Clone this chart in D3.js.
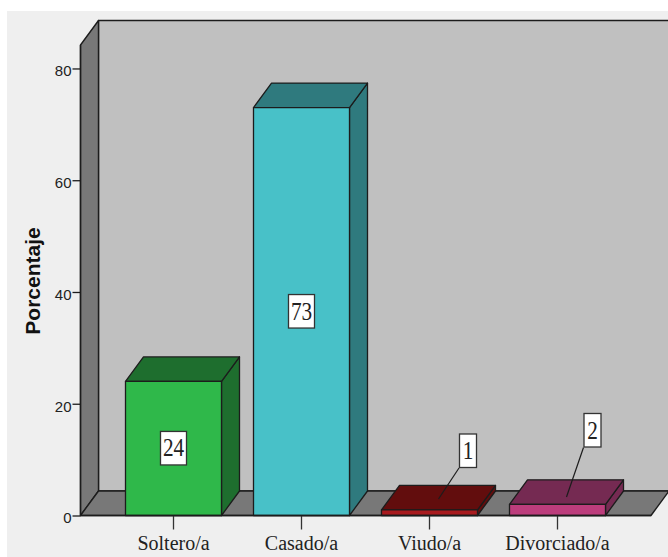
<!DOCTYPE html>
<html>
<head>
<meta charset="utf-8">
<script src="https://cdn.jsdelivr.net/npm/d3@7"></script>
<style>
	html, body { margin: 0; padding: 0; background: #fff; }
	svg { display: block; }
</style>
</head>
<body>
<div id="chart"></div>
<script>
const categories = ["Soltero/a", "Casado/a", "Viudo/a", "Divorciado/a"];
const values = [24, 73, 1, 2];
const yTicks = [0, 20, 40, 60, 80];
const yTitle = "Porcentaje";

const frontColors = ["#2fb84a", "#48c1c8", "#a81a1e", "#bc3d7c"];
const shadeColors = ["#1e6e2e", "#2f7a7e", "#620d0d", "#752a52"];

const w = 668, h = 557;
const depthX = 18, depthY = -24.5;
const plotLeft = 80.5, plotRight = 651, plotTop = 45, plotBottom = 515.5;
const ink = "#1c1c1c";

const x = d3.scaleBand()
	.domain(categories)
	.range([109.5, 621.5])
	.paddingInner(0.25)
	.paddingOuter(0.125);

const y = d3.scaleLinear()
	.domain([0, 84.2])
	.range([plotBottom, plotTop]);

// small bars get their label pulled out on a leader line
const callouts = {
	"Viudo/a": {tipX: 438.5, tipY: 499, boxX: 468, boxY: 451},
	"Divorciado/a": {tipX: 566.5, tipY: 497, boxX: 592.5, boxY: 430.5}
};

const poly = pts => "M" + pts.map(p => p.join(",")).join("L") + "Z";

const svg = d3.select("#chart").append("svg")
	.attr("width", w)
	.attr("height", h);

svg.append("rect")
	.attr("x", 7).attr("y", 11)
	.attr("width", w - 7).attr("height", h - 11)
	.attr("fill", "#efefef");

// box: back wall, side wall, floor
const box = svg.append("g")
	.attr("stroke", ink)
	.attr("stroke-width", 1.4)
	.attr("stroke-linejoin", "round");

box.append("path")
	.attr("d", poly([[plotLeft + depthX, plotTop + depthY], [plotRight + depthX + 4, plotTop + depthY], [plotRight + depthX + 4, plotBottom + depthY], [plotLeft + depthX, plotBottom + depthY]]))
	.attr("fill", "#c0c0c0");
box.append("path")
	.attr("d", poly([[plotLeft, plotTop], [plotLeft + depthX, plotTop + depthY], [plotLeft + depthX, plotBottom + depthY], [plotLeft, plotBottom]]))
	.attr("fill", "#787878");
box.append("path")
	.attr("d", poly([[plotLeft, plotBottom], [plotLeft + depthX, plotBottom + depthY], [plotRight + depthX, plotBottom + depthY], [plotRight, plotBottom]]))
	.attr("fill", "#787878");

const data = categories.map((c, i) => ({key: c, value: values[i], front: frontColors[i], shade: shadeColors[i]}));

const bars = svg.selectAll(".bar")
	.data(data, d => d.key)
	.enter()
	.append("g")
	.attr("class", "bar")
	.attr("stroke", ink)
	.attr("stroke-width", 1.3)
	.attr("stroke-linejoin", "round");

bars.append("path")
	.attr("fill", d => d.shade)
	.attr("d", d => {
		const x1 = x(d.key) + x.bandwidth(), y0 = y(d.value);
		return poly([[x1, y0], [x1 + depthX, y0 + depthY], [x1 + depthX, plotBottom + depthY], [x1, plotBottom]]);
	});

bars.append("path")
	.attr("fill", d => d.shade)
	.attr("d", d => {
		const x0 = x(d.key), x1 = x0 + x.bandwidth(), y0 = y(d.value);
		return poly([[x0, y0], [x0 + depthX, y0 + depthY], [x1 + depthX, y0 + depthY], [x1, y0]]);
	});

bars.append("rect")
	.attr("fill", d => d.front)
	.attr("x", d => x(d.key))
	.attr("y", d => y(d.value))
	.attr("width", x.bandwidth())
	.attr("height", d => plotBottom - y(d.value));

// axes
const yAxis = svg.append("g")
	.attr("transform", `translate(${plotLeft},0)`)
	.call(d3.axisLeft(y).tickValues(yTicks).tickSize(8).tickPadding(1));

const xAxis = svg.append("g")
	.attr("transform", `translate(0,${plotBottom})`)
	.call(d3.axisBottom(x).tickSize(14).tickPadding(6));

yAxis.select(".domain").remove();
xAxis.select(".domain").remove();

svg.append("line")
	.attr("x1", plotLeft).attr("x2", plotLeft)
	.attr("y1", plotTop).attr("y2", plotBottom)
	.attr("stroke", ink).attr("stroke-width", 1.4);
svg.append("line")
	.attr("x1", plotLeft).attr("x2", plotRight)
	.attr("y1", plotBottom).attr("y2", plotBottom)
	.attr("stroke", ink).attr("stroke-width", 1.4);

yAxis.selectAll(".tick line").attr("stroke", ink).attr("stroke-width", 1.3);
yAxis.selectAll(".tick text")
	.attr("y", 2.5)
	.style("font-family", "'Liberation Sans', sans-serif")
	.style("font-size", "15px")
	.attr("fill", "#222");

xAxis.selectAll(".tick line").attr("stroke", "#333").attr("stroke-width", 1.3);
xAxis.selectAll(".tick text")
	.style("font-family", "'Liberation Serif', serif")
	.style("font-size", "20px")
	.attr("fill", "#222");

svg.append("text")
	.attr("transform", "translate(40,281) rotate(-90)")
	.attr("text-anchor", "middle")
	.style("font-family", "'Liberation Sans', sans-serif")
	.style("font-size", "21px")
	.style("font-weight", "bold")
	.attr("fill", "#111")
	.text(yTitle);

// value labels
const labels = svg.selectAll(".value-label")
	.data(data, d => d.key)
	.enter()
	.append("g")
	.attr("class", "value-label")
	.attr("transform", d => {
		const c = callouts[d.key];
		return c ? `translate(${c.boxX},${c.boxY})`
			: `translate(${x(d.key) + x.bandwidth() / 2},${(y(d.value) + plotBottom) / 2})`;
	});

labels.filter(d => callouts[d.key])
	.append("line")
	.attr("x1", -9)
	.attr("y1", 17)
	.attr("x2", d => callouts[d.key].tipX - callouts[d.key].boxX)
	.attr("y2", d => callouts[d.key].tipY - callouts[d.key].boxY)
	.attr("stroke", ink)
	.attr("stroke-width", 1.2);

labels.append("rect")
	.attr("x", d => callouts[d.key] ? -8.5 : -13)
	.attr("y", -17)
	.attr("width", d => callouts[d.key] ? 17 : 26)
	.attr("height", 33.5)
	.attr("fill", "#fff")
	.attr("stroke", "#333")
	.attr("stroke-width", 1.3);

// digits are tall and narrow
labels.append("text")
	.attr("text-anchor", "middle")
	.attr("transform", "translate(0,8) scale(0.85,1)")
	.style("font-family", "'Liberation Serif', serif")
	.style("font-size", "25px")
	.attr("fill", "#222")
	.text(d => d.value);
</script>
</body>
</html>
